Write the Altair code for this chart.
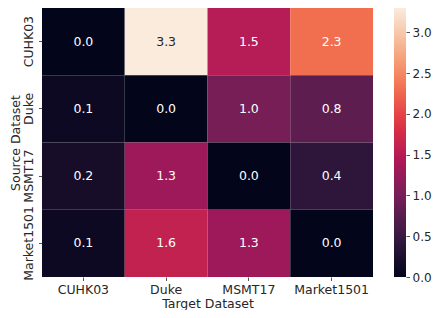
import altair as alt
import pandas as pd

sources = ["CUHK03", "Duke", "MSMT17", "Market1501"]
targets = ["CUHK03", "Duke", "MSMT17", "Market1501"]
values = [
    [0.0, 3.3, 1.5, 2.3],
    [0.1, 0.0, 1.0, 0.8],
    [0.2, 1.3, 0.0, 0.4],
    [0.1, 1.6, 1.3, 0.0],
]
rocket = ["#03051a", "#35193e", "#701f57", "#ad1759",
          "#e13342", "#f37651", "#f6b48f", "#faebdd"]
vmax = 3.3
cbar_ticks = [0.0, 0.5, 1.0, 1.5, 2.0, 2.5, 3.0]

rows = []
for i, s in enumerate(sources):
    for j, t in enumerate(targets):
        rows.append({"source": s, "target": t, "value": values[i][j]})
df = pd.DataFrame(rows)
tick_df = pd.DataFrame({"v": cbar_ticks})

FONT = "DejaVu Sans"
FS = 12.5
TXT = "#262626"
W, H = 331, 269

stops = [vmax * k / (len(rocket) - 1) for k in range(len(rocket))]

base = alt.Chart(df).encode(
    x=alt.X("target:N", sort=targets,
            scale=alt.Scale(paddingInner=0, paddingOuter=0),
            axis=alt.Axis(title="Target Dataset", labelAngle=0, domain=False,
                          tickSize=3.5, tickColor=TXT, tickWidth=0.8,
                          labelPadding=2.5, labelFont=FONT, labelFontSize=FS,
                          labelColor=TXT, titleFont=FONT, titleFontSize=FS,
                          titleFontWeight="normal", titleColor=TXT,
                          titleBaseline="alphabetic", titleY=30)),
    y=alt.Y("source:N", sort=sources,
            scale=alt.Scale(paddingInner=0, paddingOuter=0),
            axis=alt.Axis(title="Source Dataset", labelAngle=270, domain=False,
                          labelAlign="center", labelBaseline="bottom",
                          tickSize=3.5, tickColor=TXT, tickWidth=0.8,
                          labelPadding=3, labelFont=FONT, labelFontSize=FS,
                          labelColor=TXT, titleFont=FONT, titleFontSize=FS,
                          titleFontWeight="normal", titleColor=TXT,
                          titleAngle=270, titleBaseline="bottom",
                          titleAlign="center", titleX=-20, titleY=H / 2)),
)

rect = base.mark_rect(strokeWidth=0).encode(
    color=alt.Color("value:Q",
                    scale=alt.Scale(domain=stops, range=rocket, interpolate="rgb"),
                    legend=alt.Legend(orient="none", legendX=W + 21, legendY=0,
                                      direction="vertical", title=None,
                                      gradientLength=H, gradientThickness=12,
                                      gradientStrokeWidth=0, labelOpacity=0))
)

text = base.mark_text(font=FONT, fontSize=FS).encode(
    text=alt.Text("value:Q", format=".1f"),
    color=alt.condition("datum.value > 2.9", alt.value(TXT), alt.value("#ffffff")),
)

heat = alt.layer(rect, text)

cbar_axis = alt.Chart(tick_df).mark_point(opacity=0).encode(
    x=alt.value(0),
    y=alt.Y("v:Q", scale=alt.Scale(domain=[0, vmax], nice=False, zero=False),
            axis=alt.Axis(orient="right", offset=33, values=cbar_ticks,
                          format=".1f", domain=False, grid=False,
                          tickSize=3.5, tickColor=TXT, tickWidth=0.8,
                          labelPadding=2.5, labelFont=FONT, labelFontSize=12,
                          labelColor=TXT, title=None, labelFlush=False)),
)

chart = alt.layer(heat, cbar_axis).resolve_scale(
    y="independent"
).properties(
    width=W, height=H,
    autosize="none",
    padding={"left": 34, "top": 0, "right": 424 - 34 - W, "bottom": 33},
).configure_view(stroke=None)

chart.save("out.html", embed_options={"renderer": "svg", "actions": False})
